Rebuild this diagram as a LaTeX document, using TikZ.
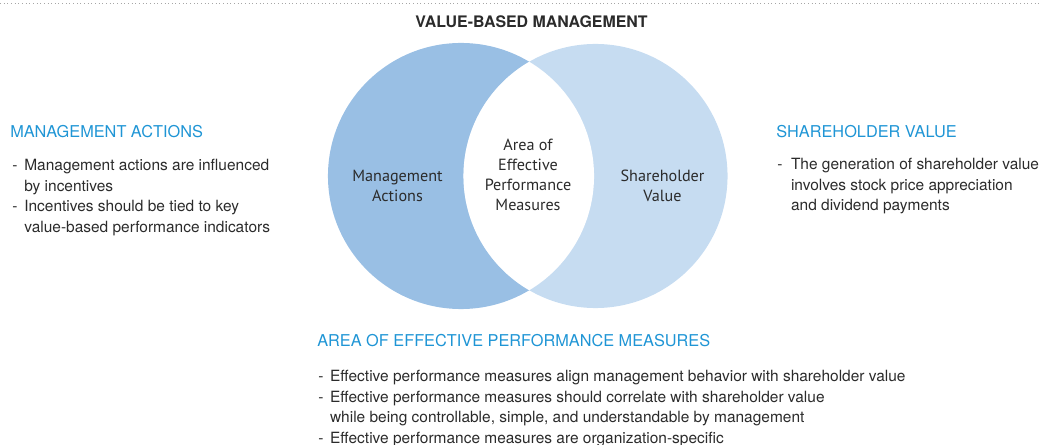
\documentclass[tikz,border=0pt]{standalone}
\usepackage{fontspec}
\setmainfont{TeX Gyre Heros}
\newfontfamily\circfont{PT Sans}
\usetikzlibrary{positioning}
\definecolor{mablue}{HTML}{99BFE4}
\definecolor{svblue}{HTML}{C6DCF1}
\definecolor{headblue}{HTML}{1F95D5}
\definecolor{textgrey}{HTML}{2B2B2B}
\tikzstyle{heading} = [anchor=base west, inner sep=0pt, text=headblue,
    font=\fontsize{11.6}{13}\selectfont]
\tikzstyle{bullets} = [inner sep=0pt, text=textgrey,
    font=\fontsize{11}{14.6}\selectfont]
\tikzstyle{circlabel} = [inner sep=0pt, align=center, text=textgrey,
    font=\circfont\fontsize{11.5}{14.2}\selectfont]
\newlength{\dashgap}
\newcommand{\itemdash}{\makebox[\dashgap][l]{-}}

\begin{document}
\begin{tikzpicture}[x=0.025cm, y=-0.025cm]
		\useasboundingbox (0,0) rectangle (1040,445);
		\draw [gray!70, line width=0.6pt, dotted] (0,3) -- (1040,3);
		\node [anchor=base, inner sep=0pt, text=textgrey, font=\bfseries\fontsize{11.3}{13}\selectfont] (vbmTitle) at (531.5,27.3) {VALUE-BASED MANAGEMENT};
		
		% venn circles
		\coordinate (maC) at (461,176);
		\coordinate (svC) at (595.5,176);
		\fill [mablue] (maC) circle [radius=3.325cm];
		\fill [svblue] (svC) circle [radius=3.3cm];
		\begin{scope}
			\clip (maC) circle [radius=3.325cm];
			\fill [white] (svC) circle [radius=3.3cm];
		\end{scope}
		\node [circlabel] (maLabel) at (397.5,185.5) {Management\\Actions};
		\node [circlabel] (areaLabel) at (528,175) {Area of\\Effective\\Performance\\Measures};
		\node [circlabel] (svLabel) at (662.5,185.5) {Shareholder\\Value};
		
		% text blocks
		\node [heading] (maHead) at (10,138) {MANAGEMENT ACTIONS};
		\node [bullets, below=12.3pt of maHead.south west, anchor=north west, xshift=1.4pt] (maList) {\setlength{\dashgap}{8.6pt}%
			\begin{tabular}{@{}l@{}l@{}}
				\itemdash & Management actions are influenced\\
				& by incentives\\
				\itemdash & Incentives should be tied to key\\
				& value-based performance indicators
			\end{tabular}};
		\node [heading] (svHead) at (776,138) {SHAREHOLDER VALUE};
		\node [bullets, below=11.8pt of svHead.south west, anchor=north west, xshift=0.7pt] (svList) {\setlength{\dashgap}{9.8pt}%
			\begin{tabular}{@{}l@{}l@{}}
				\itemdash & The generation of shareholder value\\
				& involves stock price appreciation\\
				& and dividend payments
			\end{tabular}};
		\node [heading] (areaHead) at (317,347) {AREA OF EFFECTIVE PERFORMANCE MEASURES};
		\node [bullets, below=13.8pt of areaHead.south west, anchor=north west, xshift=0.7pt] (areaList) {\setlength{\dashgap}{8.4pt}%
			\begin{tabular}{@{}l@{}l@{}}
				\itemdash & Effective performance measures align management behavior with shareholder value\\
				\itemdash & Effective performance measures should correlate with shareholder value\\
				& while being controllable, simple, and understandable by management\\
				\itemdash & Effective performance measures are organization-specific
			\end{tabular}};
	\end{tikzpicture}
\end{document}
